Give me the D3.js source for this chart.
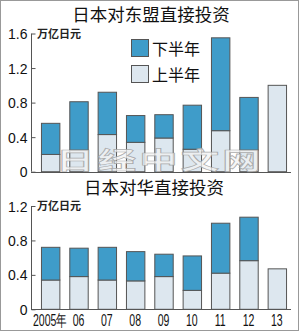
<!DOCTYPE html>
<html lang="zh">
  <head>
    <meta charset="utf-8">
    <title>日本对东盟/对华直接投资</title>
    <script src="https://d3js.org/d3.v7.min.js"></script>
    <style type="text/css">
      body { margin: 0; background: #fff; }
      .axis path, .axis line { stroke: #555; }
      .ylab text { font-family: 'Liberation Sans', Arial, sans-serif; font-size: 14px; fill: #111; }
      .title { font-family: 'Noto Sans CJK SC', sans-serif; font-size: 17.5px; fill: #111; }
      .unit { font-family: 'Noto Sans CJK SC', sans-serif; font-size: 11px; font-weight: bold; fill: #222; }
      .bar { stroke: #555; stroke-width: 1; }
    </style>
  </head>
  <body>
  <script type="text/javascript">
    // data (万亿日元)
    var years = ["2005年", "06", "07", "08", "09", "10", "11", "12", "13"];
    var aseanFirst  = [0.20, 0.25, 0.43, 0.34, 0.39, 0.26, 0.475, 0.25, 1.00];
    var aseanSecond = [0.36, 0.56, 0.49, 0.31, 0.27, 0.51, 1.075, 0.61, 0];
    var chinaFirst  = [0.34, 0.38, 0.34, 0.33, 0.38, 0.22, 0.42, 0.565, 0.47];
    var chinaSecond = [0.38, 0.33, 0.38, 0.34, 0.26, 0.40, 0.58, 0.505, 0];
    var aseanTicks = [0, 0.4, 0.8, 1.2, 1.6];
    var chinaTicks = [0, 0.4, 0.8, 1.2];
    var legendLabels = ["下半年", "上半年"];

    var DARK = "#3f9cc9", LIGHT = "#dde7ef";
    var W = 300, H = 332;

    var svg = d3.select("body").append("svg")
        .attr("width", W)
        .attr("height", H);

    // frame
    svg.append("rect")
        .attr("x", 0.5).attr("y", 0.5)
        .attr("width", W - 2).attr("height", H - 2)
        .attr("fill", "#fff")
        .attr("stroke", "#999");

    var x = d3.scaleBand()
        .domain(years)
        .range([36, 291])
        .paddingInner(0.35)
        .paddingOuter(0.175);

    function panel(first, second, ticks, yTop, yBottom, title, titleX, titleY) {
      var y = d3.scaleLinear()
          .domain([0, ticks[ticks.length - 1]])
          .range([yBottom, yTop]);

      var g = svg.append("g");

      g.append("text")
          .attr("class", "title")
          .attr("x", titleX).attr("y", titleY)
          .attr("text-anchor", "middle")
          .text(title);

      var rows = years.map(function(d, i) {
        return {year: d, a: first[i], b: second[i]};
      });

      // lower part: 上半年
      g.selectAll(".lo").data(rows).enter().append("rect")
          .attr("class", "bar lo")
          .attr("x", function(d) { return x(d.year) + 0.5; })
          .attr("width", x.bandwidth())
          .attr("y", function(d) { return y(d.a); })
          .attr("height", function(d) { return y(0) - y(d.a); })
          .attr("fill", LIGHT);

      // upper part: 下半年
      g.selectAll(".hi").data(rows.filter(function(d) { return d.b > 0; })).enter().append("rect")
          .attr("class", "bar hi")
          .attr("x", function(d) { return x(d.year) + 0.5; })
          .attr("width", x.bandwidth())
          .attr("y", function(d) { return y(d.a + d.b); })
          .attr("height", function(d) { return y(d.a) - y(d.a + d.b); })
          .attr("fill", DARK);

      // y axis
      var ax = g.append("g")
          .attr("class", "axis ylab")
          .attr("transform", "translate(31.5,0)")
          .call(d3.axisLeft(y)
              .tickValues(ticks)
              .tickSize(-4)
              .tickPadding(4)
              .tickFormat(function(d) { return d === 0 ? "0" : d3.format(".1f")(d); }));
      ax.select(".domain").attr("d", "M0," + y(ticks[ticks.length - 1]) + "V" + y(0));
      ax.selectAll("text").attr("dy", "0.36em");

      // baseline
      g.append("line")
          .attr("x1", 31).attr("x2", 291)
          .attr("y1", Math.round(y(0)) + 0.5).attr("y2", Math.round(y(0)) + 0.5)
          .attr("stroke", "#555");

      g.append("text")
          .attr("class", "unit")
          .attr("x", 37)
          .attr("y", y(ticks[ticks.length - 1]) + 4)
          .text("万亿日元");

      return y;
    }

    panel(aseanFirst, aseanSecond, aseanTicks, 33.5, 171.7, "日本对东盟直接投资", 151, 21);

    // legend
    var legend = svg.append("g");
    [DARK, LIGHT].forEach(function(c, i) {
      legend.append("rect")
          .attr("class", "bar")
          .attr("x", 131.5).attr("y", 39.5 + i * 26)
          .attr("width", 17).attr("height", 17)
          .attr("fill", c);
      legend.append("text")
          .attr("class", "title")
          .attr("x", 152).attr("y", 55 + i * 26)
          .style("font-size", "16px")
          .text(legendLabels[i]);
    });

    // watermark (stretched, outlined)
    svg.append("text")
        .attr("transform", "translate(160,169) scale(1.6,1)")
        .attr("text-anchor", "middle")
        .style("font-family", "'Noto Sans CJK SC', sans-serif")
        .style("font-size", "24px")
        .style("font-weight", "bold")
        .style("letter-spacing", "2px")
        .attr("fill", "#f2f2f2")
        .attr("fill-opacity", 0.75)
        .attr("stroke", "#9a9a9a")
        .attr("stroke-opacity", 0.8)
        .attr("stroke-width", 0.7)
        .text("日经中文网");

    var yc = panel(chinaFirst, chinaSecond, chinaTicks, 206, 309.3, "日本对华直接投资", 154, 194);

    // x axis labels (condensed)
    var xa = svg.append("g")
        .attr("transform", "translate(0," + 309.3 + ")")
        .call(d3.axisBottom(x).tickSize(0).tickPadding(0));
    xa.select(".domain").remove();
    xa.selectAll("text")
        .attr("y", 17)
        .attr("dy", 0)
        .attr("transform", "scale(0.66,1)")
        .style("font-family", "'Liberation Sans', Arial, sans-serif")
        .style("font-size", "16px")
        .attr("fill", "#111");
  </script>
  </body>
</html>
